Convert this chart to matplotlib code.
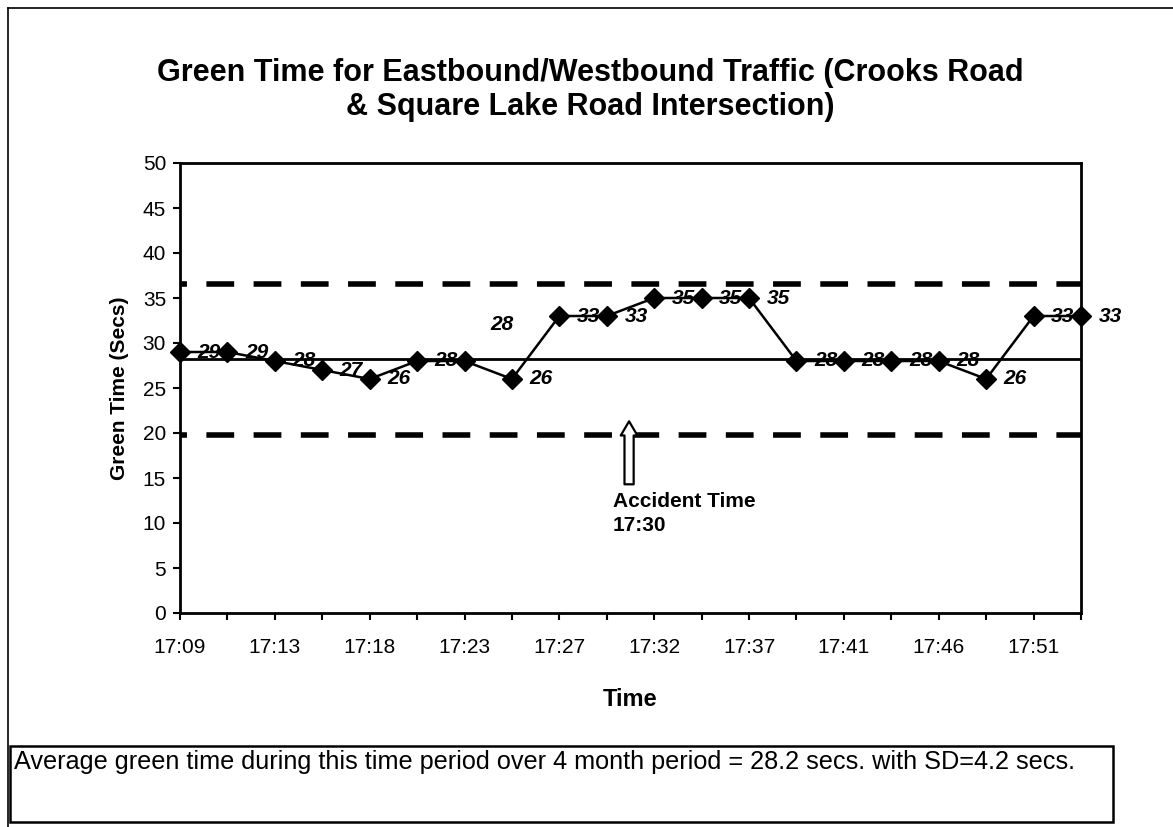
import matplotlib
matplotlib.use("Agg")
import matplotlib.pyplot as plt
from matplotlib.patches import Rectangle
from matplotlib.lines import Line2D
import numpy as np

plt.rcParams['font.family'] = ['Liberation Sans', 'DejaVu Sans']
plt.rcParams['lines.scale_dashes'] = False

# data
times = ["17:09", "17:11", "17:13", "17:16", "17:18", "17:20", "17:23", "17:25", "17:27", "17:30",
         "17:32", "17:34", "17:37", "17:39", "17:41", "17:44", "17:46", "17:48", "17:51", "17:53"]
green = [29, 29, 28, 27, 26, 28, 28, 26, 33, 33, 35, 35, 35, 28, 28, 28, 28, 26, 33, 33]
mean_green = 28.2
upper_band = 36.6
lower_band = 19.8
yticks = list(range(0, 51, 5))
accident_idx = 9.47

title = "Green Time for Eastbound/Westbound Traffic (Crooks Road\n& Square Lake Road Intersection)"
note = "Average green time during this time period over 4 month period = 28.2 secs. with SD=4.2 secs."

W, H = 1173, 827
fig = plt.figure(figsize=(W / 100, H / 100), dpi=100)
ax = fig.add_axes([180 / W, 1 - 613 / H, (1081 - 180) / W, (613 - 163) / H])

x = np.arange(len(green))
ax.plot(x, green, color="black", lw=1.8, marker="D", ms=10, zorder=4, clip_on=False)
ax.axhline(mean_green, color="black", lw=2, zorder=3)
for v in (upper_band, lower_band):
    ax.axhline(v, color="black", lw=4, ls=(15, (20, 14)), zorder=3)

# data labels, to the right of each marker; the 7th one was dragged off in the original
for i, v in enumerate(green):
    if i == 6:
        ax.text(6.79, 32.1, str(v), ha="center", va="center", fontsize=15,
                fontweight="bold", style="italic", zorder=2)
        continue
    ax.annotate(str(v), (i, v), xytext=(21, 0), textcoords="offset points",
                ha="center", va="center", fontsize=15, fontweight="bold",
                style="italic", zorder=2, annotation_clip=False)

# accident marker
ax.annotate("", xy=(accident_idx, 21.3), xytext=(accident_idx, 14.3),
            arrowprops=dict(arrowstyle="simple,head_width=1.0,head_length=0.85,tail_width=0.55",
                            fc="white", ec="black", lw=1.6, mutation_scale=12, shrinkA=0, shrinkB=0),
            zorder=5)
ax.text(9.13, 13.4, "Accident Time\n17:30", ha="left", va="top", fontsize=15,
        fontweight="bold", linespacing=1.3)

ax.set_xlim(0, len(green) - 1)
ax.set_ylim(0, 50)
ax.set_yticks(yticks)
ax.set_xticks(x[::2])
ax.set_xticklabels(times[::2])
ax.set_xticks(x, minor=True)
ax.tick_params(axis="y", labelsize=15, length=5, width=1.5, direction="out", pad=5)
ax.tick_params(axis="x", labelsize=15, length=5, width=1.5, direction="out", pad=13)
ax.tick_params(axis="x", which="minor", length=5, width=1.5)
for s in ax.spines.values():
    s.set_linewidth(2)
ax.set_ylabel("Green Time (Secs)", fontsize=15, fontweight="bold", labelpad=10)
ax.set_xlabel("Time", fontsize=17, fontweight="bold", labelpad=22)

fig.text(0.503, 1 - 90 / H, title, ha="center", va="center", fontsize=22,
         fontweight="bold", linespacing=1.2)

# note box under the chart
fig.patches.append(Rectangle((10 / W, 1 - 822 / H), (1113 - 10) / W, (822 - 746) / H,
                             transform=fig.transFigure, fill=False, ec="black", lw=1.8))
fig.text(14 / W, 1 - 762 / H, note, ha="left", va="center", fontsize=18.2)

# page frame
fig.lines.append(Line2D([8 / W, 8 / W], [0, 1 - 8 / H], transform=fig.transFigure, color="black", lw=1.2))
fig.lines.append(Line2D([8 / W, 1], [1 - 8 / H, 1 - 8 / H], transform=fig.transFigure, color="black", lw=1.2))

fig.savefig("out.png", dpi=100)
